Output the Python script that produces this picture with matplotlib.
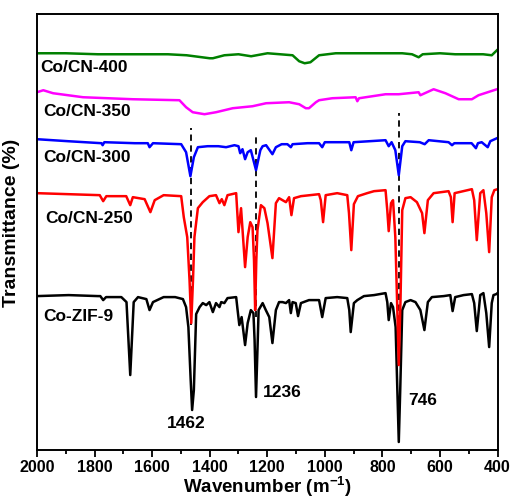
import numpy as np
import matplotlib
matplotlib.use("Agg")
import matplotlib.pyplot as plt
from matplotlib.ticker import MultipleLocator

plt.rcParams['font.family'] = ['Liberation Sans', 'DejaVu Sans']
plt.rcParams['font.weight'] = 'bold'
plt.rcParams['mathtext.fontset'] = 'custom'
plt.rcParams['mathtext.rm'] = 'Liberation Sans:bold'
plt.rcParams['mathtext.default'] = 'rm'

# spectra (wavenumber, offset transmittance, arb. units)
zif9_wn = [2000, 1890, 1788, 1780, 1770, 1760, 1707, 1689, 1676, 1664, 1649, 1620, 1609, 1597,
           1560, 1520, 1493, 1482, 1474, 1466, 1461, 1455, 1447, 1435, 1424, 1412, 1401, 1389,
           1378, 1366, 1360, 1349, 1338, 1308, 1303, 1297, 1289, 1277, 1268, 1257, 1248, 1244,
           1239, 1233, 1230, 1216, 1205, 1193, 1182, 1170, 1159, 1147, 1135, 1124, 1118, 1112,
           1101, 1093, 1083, 1055, 1020, 1009, 997, 957, 922, 915, 910, 899, 887, 864, 829, 789,
           783, 778, 770, 763, 754, 748, 743, 738, 731, 720, 702, 685, 668, 654, 642, 628, 587,
           564, 556, 547, 518, 489, 481, 472, 460, 449, 439, 429, 420, 414, 404, 400]
zif9_t = [154, 155, 154, 154, 150, 153, 153, 148, 75, 148, 153, 151, 140, 148,
          153, 153, 151, 143, 123, 70, 40, 60, 136, 143, 147, 145, 148, 138,
          147, 143, 148, 147, 152, 153, 140, 125, 133, 105, 127, 140, 137, 110,
          53, 110, 140, 147, 140, 133, 107, 140, 148, 148, 147, 150, 137, 148,
          147, 134, 147, 150, 150, 133, 152, 153, 152, 140, 118, 147, 150, 154, 155, 157,
          148, 130, 147, 143, 123, 60, 8, 60, 140, 148, 150, 148, 140, 120, 148, 153, 154,
          155, 139, 153, 155, 156, 147, 119, 155, 157, 137, 103, 147, 155, 156, 157]

cn250_wn = [2000, 1892, 1782, 1770, 1759, 1690, 1676, 1667, 1626, 1606, 1591, 1560, 1499, 1490,
            1478, 1470, 1464, 1458, 1453, 1441, 1424, 1401, 1378, 1366, 1358, 1349, 1338, 1308,
            1300, 1291, 1277, 1268, 1259, 1251, 1246, 1242, 1238, 1234, 1222, 1210, 1199, 1182,
            1170, 1159, 1135, 1124, 1116, 1107, 1083, 1020, 1014, 1006, 997, 957, 922, 916, 908,
            899, 885, 853, 829, 789, 783, 778, 770, 763, 755, 749, 743, 737, 731, 720, 702, 680,
            662, 654, 642, 622, 570, 562, 556, 549, 489, 481, 472, 460, 449, 439, 429, 420, 411, 400]
cn250_t = [257, 256, 255, 249, 254, 254, 245, 253, 251, 238, 250, 255, 254, 233,
           213, 170, 127, 170, 213, 242, 248, 254, 255, 247, 251, 245, 255, 257,
           218, 242, 183, 213, 228, 223, 190, 140, 190, 220, 245, 242, 227, 192,
           247, 252, 248, 253, 235, 252, 254, 256, 250, 228, 255, 257, 255, 237, 200,
           246, 254, 257, 259, 260, 240, 219, 247, 250, 213, 150, 85, 150, 240, 252, 253, 248,
           237, 217, 250, 257, 259, 253, 228, 257, 261, 250, 210, 257, 260, 237, 198, 253, 260, 261]

cn300_wn = [2000, 1892, 1776, 1772, 1766, 1660, 1615, 1609, 1597, 1499, 1482, 1467, 1455, 1441,
            1407, 1370, 1343, 1314, 1300, 1294, 1286, 1277, 1268, 1257, 1239, 1224, 1216, 1204,
            1182, 1170, 1150, 1130, 1118, 1112, 1060, 1020, 1009, 1000, 915, 908, 900, 789, 778,
            768, 755, 743, 731, 720, 670, 653, 639, 570, 558, 550, 490, 475, 468, 455, 434, 425, 402]
cn300_t = [311, 309, 307, 305, 308, 307, 307, 303, 307, 306, 298, 274, 293, 303,
           304, 304, 303, 305, 304, 297, 301, 291, 298, 300, 280, 300, 304, 305,
           296, 303, 306, 306, 303, 306, 307, 307, 303, 308, 308, 300, 308, 310, 304,
           308, 300, 275, 304, 309, 308, 306, 310, 308, 305, 307, 307, 302, 307, 308, 303, 309, 312]

cn350_wn = [2000, 1978, 1944, 1840, 1667, 1505, 1482, 1459, 1418, 1378, 1320, 1251, 1204, 1124,
            1089, 1066, 1055, 1031, 1020, 974, 893, 887, 881, 789, 743, 674, 668, 622, 581, 535,
            512, 489, 466, 402]
cn350_t = [358, 360, 357, 353, 351, 350, 343, 338, 336, 338, 342, 344, 347, 348,
           346, 342, 342, 348, 350, 352, 353, 349, 352, 356, 356, 358, 355, 361, 357, 351,
           351, 351, 355, 361]

cn400_wn = [2000, 1900, 1788, 1700, 1545, 1480, 1400, 1389, 1349, 1300, 1256, 1199, 1112, 1089,
            1070, 1050, 1020, 962, 850, 731, 697, 674, 660, 600, 547, 450, 420, 402]
cn400_t = [397, 397, 396, 396, 396, 395, 392, 392, 395, 396, 394, 397, 395, 389,
           387, 388, 395, 397, 397, 397, 396, 393, 396, 397, 396, 396, 395, 400]

names = ['Co-ZIF-9', 'Co/CN-250', 'Co/CN-300', 'Co/CN-350', 'Co/CN-400']
colors = ['black', 'red', 'blue', 'magenta', 'green']
label_x = [1978, 1972, 1978, 1978, 1990]
label_y = [134, 232, 293, 339, 383]

peaks = [1462, 1236, 746]
peak_line_x = [1465, 1239, 741]
peak_line_top = [322, 314, 337]
peak_line_bot = [125, 133, 85]
peak_txt_x = [1482, 1147, 660]
peak_txt_y = [27, 58, 50]

fig = plt.figure(figsize=(5.13, 4.98), dpi=100)
ax = fig.add_axes([0.0721, 0.0964, 0.8977, 0.8749])

for i in range(3):
    ax.plot([peak_line_x[i], peak_line_x[i]], [peak_line_bot[i], peak_line_top[i]],
            color='black', lw=1.3, ls=(0, (3.5, 2.5)), zorder=1)

series = [(zif9_wn, zif9_t), (cn250_wn, cn250_t), (cn300_wn, cn300_t),
          (cn350_wn, cn350_t), (cn400_wn, cn400_t)]
for (wn, t), c in zip(series, colors):
    ax.plot(wn, t, color=c, lw=1.8, zorder=2)

for i, n in enumerate(names):
    ax.text(label_x[i], label_y[i], n, fontsize=12.5, fontweight='bold', ha='left', va='center')

for i, p in enumerate(peaks):
    ax.text(peak_txt_x[i], peak_txt_y[i], str(p), fontsize=12.5, fontweight='bold',
            ha='center', va='center')

ax.set_xlim(2000, 400)
ax.set_ylim(0, 436)
ax.xaxis.set_major_locator(MultipleLocator(200))
ax.xaxis.set_minor_locator(MultipleLocator(100))
ax.tick_params(axis='x', which='major', direction='out', length=5, width=1.3,
               labelsize=11.5, pad=2)
ax.tick_params(axis='x', which='minor', direction='out', length=3, width=1.3)
ax.set_yticks([])
for lab in ax.get_xticklabels():
    lab.set_fontweight('bold')
for s in ax.spines.values():
    s.set_linewidth(1.4)

ax.set_xlabel('Wavenumber (m$^{-1}$)', fontsize=13.5, fontweight='bold', labelpad=0)
ax.set_ylabel('Transmittance (%)', fontsize=14, fontweight='bold')
ax.yaxis.set_label_coords(-0.037, 0.522)

fig.savefig('out.png', dpi=100)
